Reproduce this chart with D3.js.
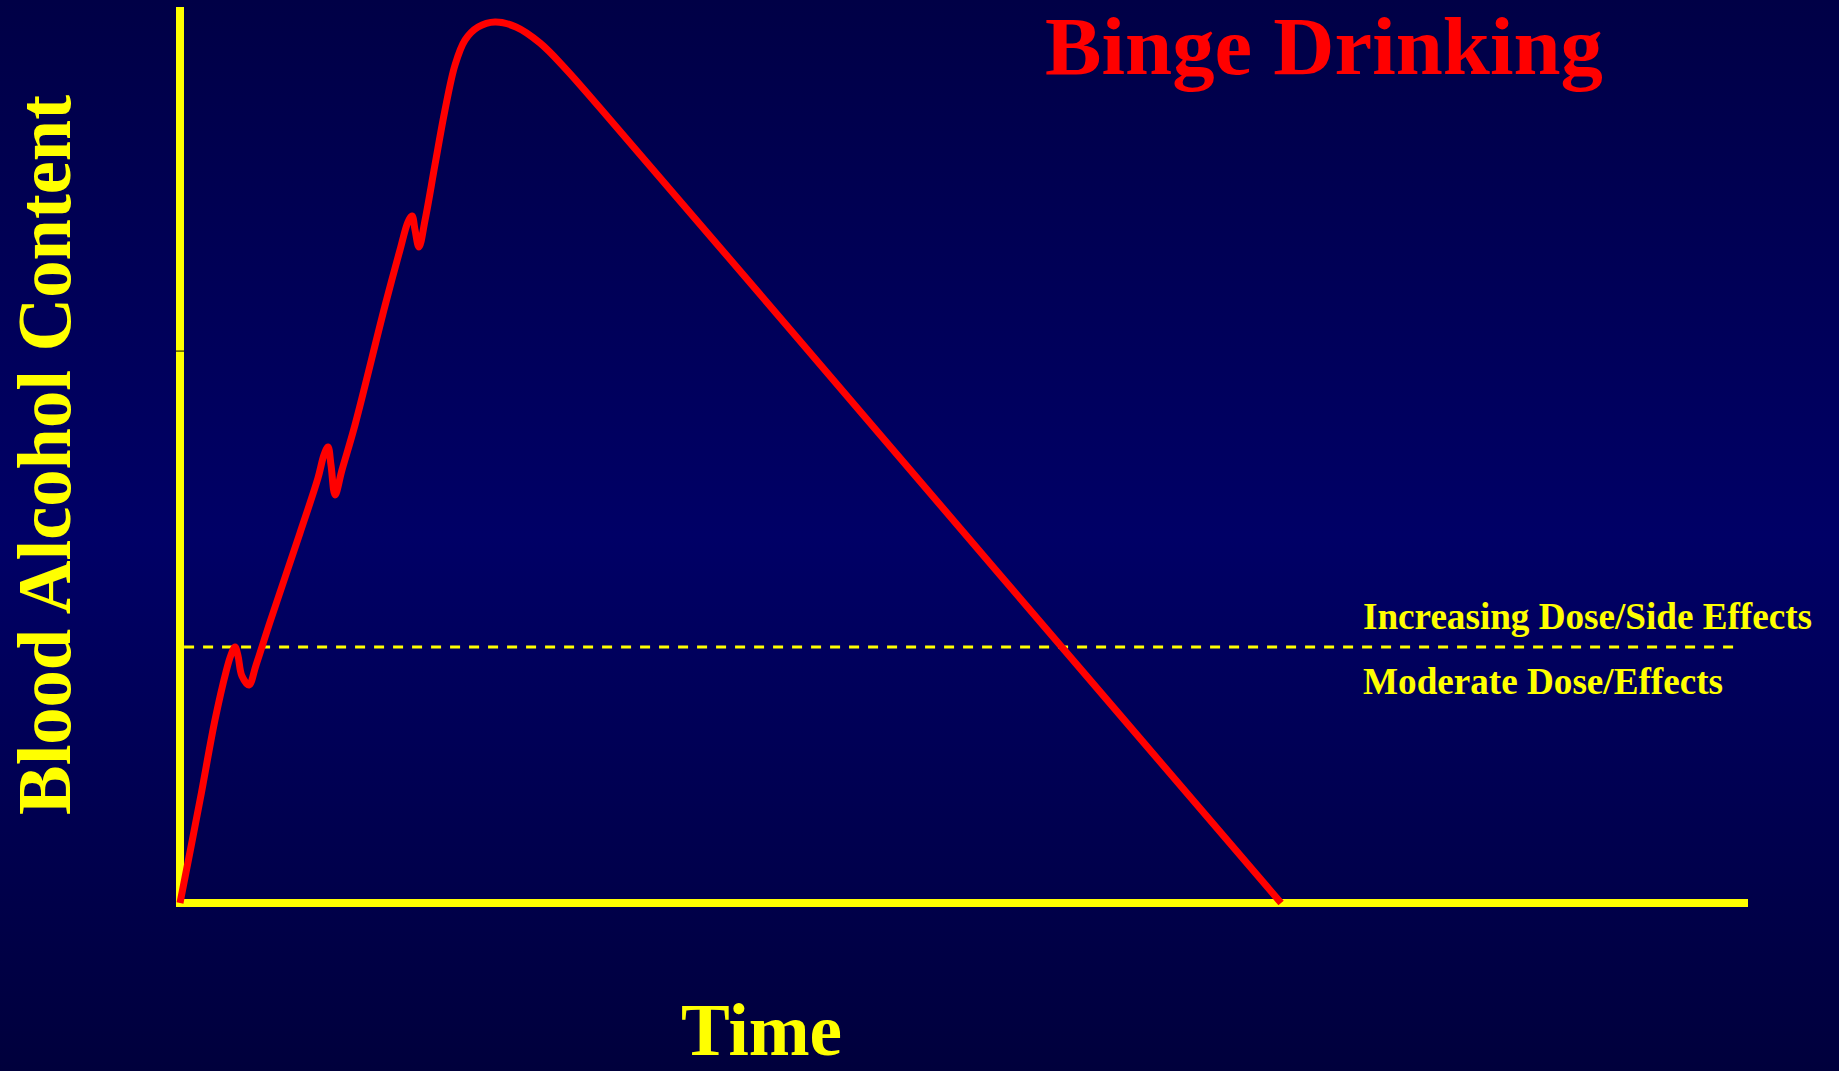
<!DOCTYPE html>
<html>
  <head>
    <meta charset="utf-8">
    <title>Binge Drinking</title>
    <script src="https://cdn.jsdelivr.net/npm/d3@7"></script>
    <style>
      html, body { margin: 0; padding: 0; background: #000044; }
      svg { display: block; }
      text { font-family: "Liberation Serif", "Times New Roman", serif; font-weight: bold; }
    </style>
  </head>
  <body>
    <div id="chart"></div>
    <script>
      // time (0-100) vs blood alcohol content (0-100)
      var time = [0, 1.28, 2.23, 2.93, 3.25, 3.51, 3.70, 3.95, 4.40,
                  4.85, 5.74, 7.65, 8.80, 9.18, 9.44, 9.63, 9.89,
                  10.33, 11.16, 13.07, 14.03, 14.54, 14.80, 14.99, 15.24,
                  15.63, 16.26, 16.90, 17.54, 18.18, 19.01, 20.09,
                  21.43, 22.96, 24.55, 26.79, 39.54, 52.30, 70.22];
      var bac = [0, 11.50, 20.42, 25.78, 27.68, 28.57, 27.57, 25.33, 24.33,
                 26.56, 31.36, 41.29, 47.43, 50.00, 50.89, 48.88, 45.54,
                 48.33, 53.35, 66.63, 72.88, 76.00, 76.67, 75.11, 73.21,
                 76.23, 82.37, 88.50, 93.53, 96.32, 97.77, 98.33,
                 97.77, 95.98, 93.19, 88.73, 62.72, 36.61, 0];

      var threshold = 28.57;          // moderate / increasing dose boundary
      var thresholdSpan = [0.26, 99.5];
      var yTicks = [61.6];

      var title = "Binge Drinking";
      var yLabel = "Blood Alcohol Content";
      var xLabel = "Time";
      var zoneLabels = ["Increasing Dose/Side Effects", "Moderate Dose/Effects"];

      var width = 1839, height = 1071;
      var margin = {top: 7, right: 91, bottom: 168, left: 180};

      var x = d3.scaleLinear().domain([0, 100]).range([margin.left, width - margin.right]);
      var y = d3.scaleLinear().domain([0, 100]).range([height - margin.bottom, margin.top]);

      var svg = d3.select("#chart").append("svg")
          .attr("width", width)
          .attr("height", height);

      var grad = svg.append("defs").append("linearGradient")
          .attr("id", "bg")
          .attr("x1", 0).attr("y1", 0).attr("x2", 0).attr("y2", 1);
      grad.append("stop").attr("offset", "0%").attr("stop-color", "#000046");
      grad.append("stop").attr("offset", "50%").attr("stop-color", "#000066");
      grad.append("stop").attr("offset", "100%").attr("stop-color", "#00003c");

      svg.append("rect")
          .attr("width", width)
          .attr("height", height)
          .attr("fill", "url(#bg)");

      // dashed threshold
      svg.append("line")
          .attr("x1", x(thresholdSpan[0]))
          .attr("x2", x(thresholdSpan[1]))
          .attr("y1", y(threshold))
          .attr("y2", y(threshold))
          .attr("stroke", "#ffff00")
          .attr("stroke-width", 3)
          .attr("stroke-dasharray", "10,9");

      // axes
      svg.append("line")
          .attr("x1", x(0)).attr("x2", x(0))
          .attr("y1", y(100)).attr("y2", y(0) + 4)
          .attr("stroke", "#ffff00")
          .attr("stroke-width", 8);

      svg.append("line")
          .attr("x1", x(0) - 4).attr("x2", x(100))
          .attr("y1", y(0)).attr("y2", y(0))
          .attr("stroke", "#ffff00")
          .attr("stroke-width", 8);

      svg.selectAll(".tick")
          .data(yTicks)
          .enter().append("line")
          .attr("class", "tick")
          .attr("x1", x(0) - 4).attr("x2", x(0) + 4)
          .attr("y1", function(d) { return y(d); })
          .attr("y2", function(d) { return y(d); })
          .attr("stroke", "#000000")
          .attr("stroke-width", 1);

      // BAC curve
      var line = d3.line()
          .x(function(d, i) { return x(time[i]); })
          .y(function(d) { return y(d); })
          .curve(d3.curveCatmullRom.alpha(0.5));

      svg.append("path")
          .datum(bac)
          .attr("d", line)
          .attr("fill", "none")
          .attr("stroke", "#ff0000")
          .attr("stroke-width", 7)
          .attr("stroke-linejoin", "round");

      // texts
      svg.append("text")
          .attr("x", 1045)
          .attr("y", 74)
          .attr("font-size", 83)
          .attr("fill", "#ff0000")
          .attr("textLength", 558)
          .attr("lengthAdjust", "spacingAndGlyphs")
          .text(title);

      svg.append("text")
          .attr("transform", "translate(70,455) rotate(-90)")
          .attr("text-anchor", "middle")
          .attr("font-size", 76)
          .attr("fill", "#ffff00")
          .attr("textLength", 720)
          .attr("lengthAdjust", "spacingAndGlyphs")
          .text(yLabel);

      svg.append("text")
          .attr("x", 681)
          .attr("y", 1055)
          .attr("font-size", 74)
          .attr("fill", "#ffff00")
          .attr("textLength", 161)
          .attr("lengthAdjust", "spacingAndGlyphs")
          .text(xLabel);

      svg.append("text")
          .attr("x", 1363)
          .attr("y", 629)
          .attr("font-size", 38)
          .attr("fill", "#ffff00")
          .attr("textLength", 449)
          .attr("lengthAdjust", "spacingAndGlyphs")
          .text(zoneLabels[0]);

      svg.append("text")
          .attr("x", 1363)
          .attr("y", 694)
          .attr("font-size", 38)
          .attr("fill", "#ffff00")
          .attr("textLength", 360)
          .attr("lengthAdjust", "spacingAndGlyphs")
          .text(zoneLabels[1]);
    </script>
  </body>
</html>
